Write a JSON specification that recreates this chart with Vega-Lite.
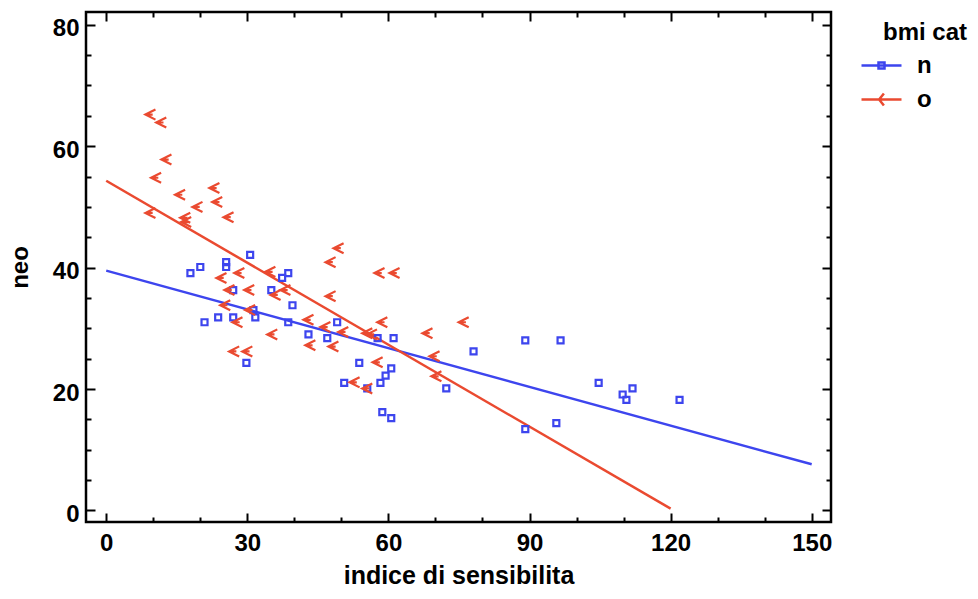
{
  "$schema": "https://vega.github.io/schema/vega-lite/v6.json",
  "autosize": {"type": "none"},
  "padding": {"left": 86, "top": 12, "right": 147, "bottom": 77},
  "width": 745,
  "height": 510,
  "background": "white",
  "config": {
    "view": {"stroke": "black", "strokeWidth": 2.5},
    "font": "Liberation Sans"
  },
  "datasets": {
    "pts": [
      {"bmi": "n", "x": 17.9, "y": 39.1}, {"bmi": "n", "x": 20.0, "y": 40.1}, {"bmi": "n", "x": 25.5, "y": 40.9},
      {"bmi": "n", "x": 25.5, "y": 40.1}, {"bmi": "n", "x": 30.6, "y": 42.1}, {"bmi": "n", "x": 38.7, "y": 39.1},
      {"bmi": "n", "x": 37.4, "y": 38.3}, {"bmi": "n", "x": 27.0, "y": 36.3}, {"bmi": "n", "x": 35.1, "y": 36.3},
      {"bmi": "n", "x": 39.6, "y": 33.8}, {"bmi": "n", "x": 20.9, "y": 31.0}, {"bmi": "n", "x": 23.8, "y": 31.8},
      {"bmi": "n", "x": 27.0, "y": 31.8}, {"bmi": "n", "x": 31.7, "y": 31.8}, {"bmi": "n", "x": 31.3, "y": 33.0},
      {"bmi": "n", "x": 38.7, "y": 31.0}, {"bmi": "n", "x": 43.0, "y": 29.0}, {"bmi": "n", "x": 47.0, "y": 28.4},
      {"bmi": "n", "x": 49.1, "y": 31.0}, {"bmi": "n", "x": 29.8, "y": 24.3}, {"bmi": "n", "x": 57.7, "y": 28.4},
      {"bmi": "n", "x": 61.1, "y": 28.4}, {"bmi": "n", "x": 53.8, "y": 24.3}, {"bmi": "n", "x": 60.6, "y": 23.4},
      {"bmi": "n", "x": 59.4, "y": 22.2}, {"bmi": "n", "x": 58.3, "y": 21.0}, {"bmi": "n", "x": 50.6, "y": 21.0},
      {"bmi": "n", "x": 55.5, "y": 20.1}, {"bmi": "n", "x": 72.3, "y": 20.1}, {"bmi": "n", "x": 78.1, "y": 26.2},
      {"bmi": "n", "x": 58.7, "y": 16.2}, {"bmi": "n", "x": 60.6, "y": 15.2}, {"bmi": "n", "x": 89.1, "y": 28.0},
      {"bmi": "n", "x": 96.6, "y": 28.0}, {"bmi": "n", "x": 104.7, "y": 21.0}, {"bmi": "n", "x": 109.8, "y": 19.1},
      {"bmi": "n", "x": 110.6, "y": 18.2}, {"bmi": "n", "x": 111.9, "y": 20.1}, {"bmi": "n", "x": 121.9, "y": 18.2},
      {"bmi": "n", "x": 89.1, "y": 13.4}, {"bmi": "n", "x": 95.7, "y": 14.4},
      {"bmi": "o", "x": 9.4, "y": 65.2}, {"bmi": "o", "x": 11.7, "y": 63.9}, {"bmi": "o", "x": 12.8, "y": 57.8},
      {"bmi": "o", "x": 10.6, "y": 54.8}, {"bmi": "o", "x": 15.7, "y": 52.0}, {"bmi": "o", "x": 19.4, "y": 50.0},
      {"bmi": "o", "x": 23.0, "y": 53.1}, {"bmi": "o", "x": 23.6, "y": 50.8}, {"bmi": "o", "x": 26.0, "y": 48.3},
      {"bmi": "o", "x": 9.4, "y": 49.0}, {"bmi": "o", "x": 16.8, "y": 48.2}, {"bmi": "o", "x": 17.0, "y": 47.5},
      {"bmi": "o", "x": 49.4, "y": 43.2}, {"bmi": "o", "x": 47.7, "y": 40.9}, {"bmi": "o", "x": 24.5, "y": 38.3},
      {"bmi": "o", "x": 28.3, "y": 39.1}, {"bmi": "o", "x": 34.9, "y": 39.3}, {"bmi": "o", "x": 26.2, "y": 36.3},
      {"bmi": "o", "x": 30.4, "y": 36.3}, {"bmi": "o", "x": 36.0, "y": 35.5}, {"bmi": "o", "x": 38.1, "y": 36.3},
      {"bmi": "o", "x": 47.7, "y": 35.3}, {"bmi": "o", "x": 25.3, "y": 33.8}, {"bmi": "o", "x": 30.6, "y": 33.0},
      {"bmi": "o", "x": 27.9, "y": 31.0}, {"bmi": "o", "x": 35.3, "y": 29.0}, {"bmi": "o", "x": 43.0, "y": 31.4},
      {"bmi": "o", "x": 46.6, "y": 30.2}, {"bmi": "o", "x": 43.4, "y": 27.2}, {"bmi": "o", "x": 48.3, "y": 27.0},
      {"bmi": "o", "x": 50.4, "y": 29.4}, {"bmi": "o", "x": 27.2, "y": 26.2}, {"bmi": "o", "x": 30.0, "y": 26.2},
      {"bmi": "o", "x": 58.1, "y": 39.1}, {"bmi": "o", "x": 61.3, "y": 39.1}, {"bmi": "o", "x": 58.7, "y": 31.0},
      {"bmi": "o", "x": 55.5, "y": 29.2}, {"bmi": "o", "x": 56.5, "y": 29.0}, {"bmi": "o", "x": 68.3, "y": 29.2},
      {"bmi": "o", "x": 76.0, "y": 31.0}, {"bmi": "o", "x": 69.8, "y": 25.4}, {"bmi": "o", "x": 70.2, "y": 22.1},
      {"bmi": "o", "x": 57.7, "y": 24.4}, {"bmi": "o", "x": 52.8, "y": 21.1}, {"bmi": "o", "x": 55.5, "y": 20.1}
    ],
    "fit": [
      {"bmi": "n", "x": 0, "y": 39.5}, {"bmi": "n", "x": 150, "y": 7.6},
      {"bmi": "o", "x": 0, "y": 54.3}, {"bmi": "o", "x": 120, "y": 0.3}
    ]
  },
  "resolve": {"axis": {"x": "independent", "y": "independent"}},
  "layer": [
    {
      "data": {"name": "fit"},
      "mark": {"type": "line", "strokeWidth": 2.5},
      "encoding": {
        "x": {
          "field": "x", "type": "quantitative",
          "scale": {"domain": [-4.3, 154.1], "nice": false, "zero": false},
          "axis": {
            "orient": "bottom", "title": "indice di sensibilita",
            "values": [0,10,20,30,40,50,60,70,80,90,100,110,120,130,140,150],
            "labelExpr": "datum.value % 30 === 0 ? datum.label : ''",
            "tickSize": {"condition": {"test": "datum.value % 30 === 0", "value": -9}, "value": -5},
            "tickWidth": 2, "tickColor": "black", "domain": false, "grid": false,
            "labelPadding": 18, "labelFontSize": 24, "labelFontWeight": "bold", "labelColor": "black",
            "titleFontSize": 25, "titleFontWeight": "bold", "titleColor": "black", "titlePadding": 8
          }
        },
        "y": {
          "field": "y", "type": "quantitative",
          "scale": {"domain": [-1.9, 82.1], "nice": false, "zero": false},
          "axis": {
            "orient": "left", "title": "neo",
            "values": [0,5,10,15,20,25,30,35,40,45,50,55,60,65,70,75,80],
            "labelExpr": "datum.value % 20 === 0 ? datum.label : ''",
            "tickSize": {"condition": {"test": "datum.value % 20 === 0", "value": -9}, "value": -5},
            "tickWidth": 2, "tickColor": "black", "domain": false, "grid": false,
            "labelPadding": 16, "labelOffset": 4, "labelFontSize": 24, "labelFontWeight": "bold", "labelColor": "black",
            "titleFontSize": 24, "titleFontWeight": "bold", "titleColor": "black", "titlePadding": 20
          }
        },
        "color": {
          "field": "bmi", "type": "nominal",
          "scale": {"domain": ["n", "o"], "range": ["#3d45ee", "#ea4a30"]},
          "legend": {
            "title": "bmi cat", "orient": "none", "legendX": 797, "legendY": 9,
            "symbolType": "stroke", "symbolSize": 1600, "symbolStrokeWidth": 2.5,
            "titleFontSize": 24, "titleFontWeight": "bold", "titleColor": "black", "titlePadding": -1,
            "labelFontSize": 24, "labelFontWeight": "bold", "labelColor": "black",
            "symbolOffset": -23, "rowPadding": -14, "labelOffset": 14,
            "encode": {
              "symbols": {
                "update": {
                  "shape": {"signal": "datum.value === 'n' ? 'M-1,0H1M-0.15,-0.15H0.15V0.15H-0.15Z' : 'M-1,0H1M0.12,-0.3L-0.12,0L0.12,0.3'"},
                  "strokeWidth": {"value": 2.5}
                }
              }
            }
          }
        },
        "detail": {"field": "bmi"}
      }
    },
    {
      "data": {"name": "pts"},
      "mark": {"type": "point", "filled": false, "strokeWidth": 2.2, "opacity": 1},
      "encoding": {
        "x": {
          "field": "x", "type": "quantitative",
          "axis": {
            "orient": "top", "title": null, "labels": false,
            "values": [0,10,20,30,40,50,60,70,80,90,100,110,120,130,140,150],
            "tickSize": {"condition": {"test": "datum.value % 30 === 0", "value": -9}, "value": -5},
            "tickWidth": 2, "tickColor": "black", "domain": false, "grid": false
          }
        },
        "y": {
          "field": "y", "type": "quantitative",
          "axis": {
            "orient": "right", "title": null, "labels": false,
            "values": [0,5,10,15,20,25,30,35,40,45,50,55,60,65,70,75,80],
            "tickSize": {"condition": {"test": "datum.value % 20 === 0", "value": -9}, "value": -5},
            "tickWidth": 2, "tickColor": "black", "domain": false, "grid": false
          }
        },
        "color": {"field": "bmi", "type": "nominal", "legend": null},
        "shape": {
          "condition": {"test": "datum.bmi === 'o'", "value": "M0.9,-0.9L-0.9,0L0.9,0.9M-0.9,0L0.4,0"},
          "value": "square"
        },
        "size": {
          "condition": {"test": "datum.bmi === 'o'", "value": 125},
          "value": 36
        }
      }
    }
  ]
}
